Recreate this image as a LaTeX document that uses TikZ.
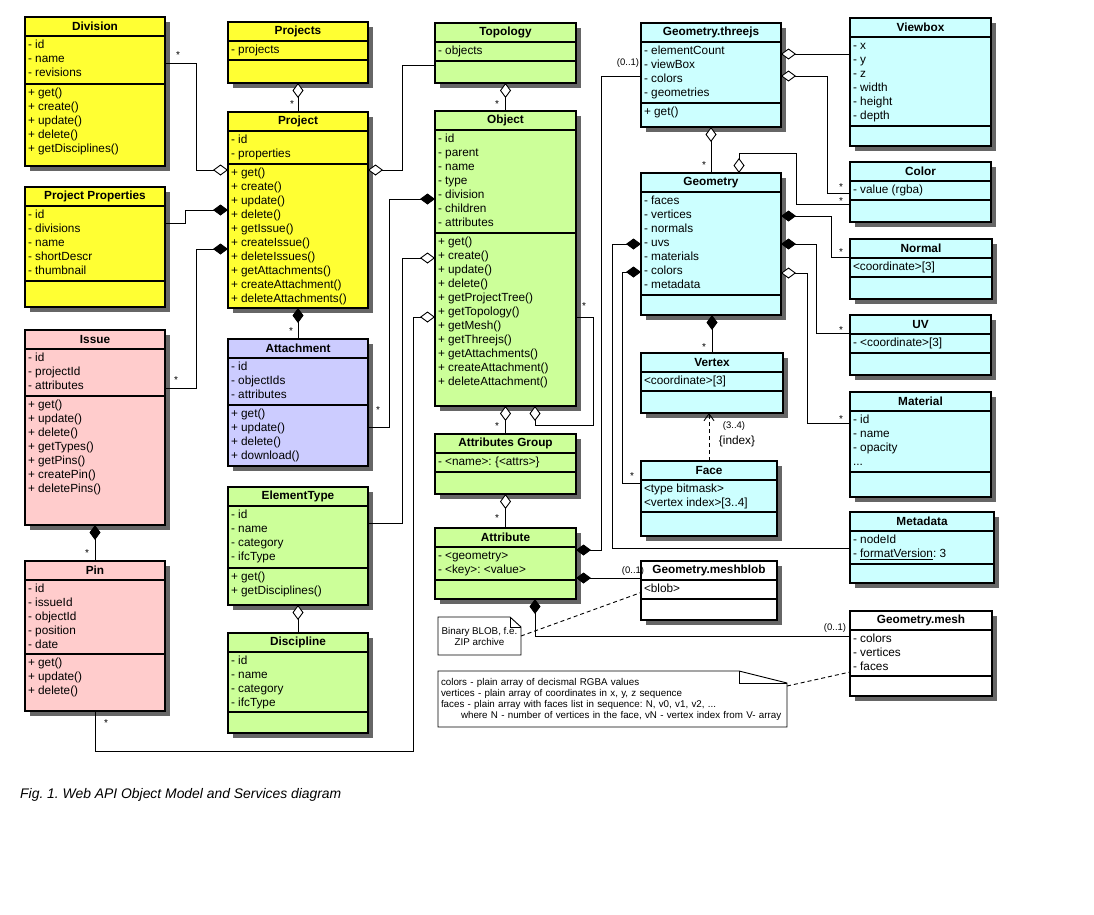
\documentclass[tikz,border=0pt]{standalone}
\usepackage{fontspec}
\setmainfont{Liberation Sans}
\usetikzlibrary{arrows.meta,calc,shadows}
\frenchspacing

\definecolor{clsyellow}{RGB}{255,255,51}
\definecolor{clsgreen}{RGB}{204,255,153}
\definecolor{clscyan}{RGB}{204,255,255}
\definecolor{clspink}{RGB}{255,204,204}
\definecolor{clsblue}{RGB}{204,204,255}
\definecolor{clsshadow}{RGB}{102,102,102}

\tikzset{
  clsbase/.style={draw, line width=2.2pt, inner sep=0pt, outer sep=0pt, anchor=north west,
    font=\fontsize{11.8}{14}\selectfont,
    drop shadow={shadow xshift=4.5pt, shadow yshift=-4.5pt, fill=clsshadow, opacity=1}},
  clstitle/.style={clsbase, minimum height=19pt, font=\fontsize{11.8}{14}\selectfont\bfseries},
  clspart/.style={clsbase},
  conn/.style={line width=0.9pt},
  comp/.style={conn, -{Diamond[length=15pt,width=11pt]}},
  aggr/.style={conn, -{Diamond[open,fill=white,length=15pt,width=11pt]}},
  depend/.style={conn, dash pattern=on 4pt off 3pt, -{Straight Barb[length=7pt,width=10pt]}},
  mult/.style={inner sep=0pt, font=\fontsize{10}{10}\selectfont},
  card/.style={inner sep=0pt, font=\fontsize{9.5}{10}\selectfont},
  notebox/.style={inner sep=0pt, outer sep=0pt, anchor=north west, font=\fontsize{9.8}{11}\selectfont},
  noteline/.style={line width=0.9pt},
  notelink/.style={conn, dash pattern=on 4pt off 3pt},
}

% lines inside a class compartment
\newcommand{\clslines}{\raggedright\leftskip=3pt\rule{0pt}{12.5pt}}
% name, position, width, colour, title, attribute height, attributes, method height, methods
\newcommand{\umlclass}[9]{%
  \node[clstitle, fill=#4, minimum width=#3pt] (#1) at (#2) {#5};
  \node[clspart, fill=#4] (#1-a) at (#1.south west) {\parbox[c][#6pt][t]{#3pt}{\clslines #7}};
  \node[clspart, fill=#4] (#1-m) at (#1-a.south west) {\parbox[c][#8pt][t]{#3pt}{\clslines #9}};
}

\begin{document}
\begin{tikzpicture}[x=1pt, y=-1pt]
\fill[white] (0,0) rectangle (1094,914);
\useasboundingbox (0,0) rectangle (1094,914);

% project classes
\umlclass{div}{25,17}{140}{clsyellow}{Division}{48}{- id\\- name\\- revisions}{82}{+ get()\\+ create()\\+ update()\\+ delete()\\+ getDisciplines()}
\umlclass{prjs}{228,22}{140}{clsyellow}{Projects}{19}{- projects}{23}{}
\umlclass{prj}{228,112}{140}{clsyellow}{Project}{33}{- id\\- properties}{144}{+ get()\\+ create()\\+ update()\\+ delete()\\+ getIssue()\\+ createIssue()\\+ deleteIssues()\\+ getAttachments()\\+ createAttachment()\\+ deleteAttachments()}
\umlclass{pp}{25,187}{140}{clsyellow}{Project Properties}{75}{- id\\- divisions\\- name\\- shortDescr\\- thumbnail}{26}{}
\umlclass{iss}{25,330}{140}{clspink}{Issue}{47}{- id\\- projectId\\- attributes}{129}{+ get()\\+ update()\\+ delete()\\+ getTypes()\\+ getPins()\\+ createPin()\\+ deletePins()}
\umlclass{pin}{25,561}{140}{clspink}{Pin}{74}{- id\\- issueId\\- objectId\\- position\\- date}{57}{+ get()\\+ update()\\+ delete()}
\umlclass{att}{228,339}{140}{clsblue}{Attachment}{47}{- id\\- objectIds\\- attributes}{61}{+ get()\\+ update()\\+ delete()\\+ download()}
\umlclass{et}{228,487}{140}{clsgreen}{ElementType}{62}{- id\\- name\\- category\\- ifcType}{37}{+ get()\\+ getDisciplines()}
\umlclass{dis}{228,633}{140}{clsgreen}{Discipline}{60}{- id\\- name\\- category\\- ifcType}{21}{}

% object classes
\umlclass{top}{435,23}{141}{clsgreen}{Topology}{19}{- objects}{22}{}
\umlclass{obj}{435,111}{141}{clsgreen}{Object}{103}{- id\\- parent\\- name\\- type\\- division\\- children\\- attributes}{173}{+ get()\\+ create()\\+ update()\\+ delete()\\+ getProjectTree()\\+ getTopology()\\+ getMesh()\\+ getThreejs()\\+ getAttachments()\\+ createAttachment()\\+ deleteAttachment()}
\umlclass{ag}{435,434}{141}{clsgreen}{Attributes Group}{19}{- <name>: \{<attrs>\}}{22}{}
\umlclass{attr}{435,528}{141}{clsgreen}{Attribute}{33}{- <geometry>\\- <key>: <value>}{19}{}

% geometry classes
\umlclass{tjs}{641,23}{140}{clscyan}{Geometry.threejs}{61}{- elementCount\\- viewBox\\- colors\\- geometries}{24}{+ get()}
\umlclass{geo}{641,173}{140}{clscyan}{Geometry}{103}{- faces\\- vertices\\- normals\\- uvs\\- materials\\- colors\\- metadata}{20}{}
\umlclass{vtx}{641,353}{142}{clscyan}{Vertex}{19}{<coordinate>[3]}{22}{}
\umlclass{face}{641,461}{136}{clscyan}{Face}{32}{<type bitmask>\\<vertex index>[3..4]}{24}{}
\umlclass{blob}{641,561}{136}{white}{Geometry.meshblob}{19}{<blob>}{21}{}
\umlclass{vbox}{850,18}{141}{clscyan}{Viewbox}{89}{- x\\- y\\- z\\- width\\- height\\- depth}{20}{}
\umlclass{col}{850,162}{141}{clscyan}{Color}{19}{- value (rgba)}{22}{}
\umlclass{nrm}{850,239}{142}{clscyan}{Normal}{19}{<coordinate>[3]}{22}{}
\umlclass{uv}{850,315}{141}{clscyan}{UV}{19}{- <coordinate>[3]}{22}{}
\umlclass{mat}{850,392}{141}{clscyan}{Material}{61}{- id\\- name\\- opacity\\...}{25}{}
\umlclass{meta}{850,512}{144}{clscyan}{Metadata}{33}{- nodeId\\- \underline{formatVersion}: 3}{19}{}
\umlclass{mesh}{850,611}{142}{white}{Geometry.mesh}{46}{- colors\\- vertices\\- faces}{20}{}

% project connectors
\draw[aggr] ($(div.north east)+(0,46)$) -| (196,170) -- ($(prj.north west)+(0,58)$);
\draw[comp] ($(pp.north east)+(0,36)$) -| (185,210) -- ($(prj.north west)+(0,98)$);
\draw[comp] ($(iss.north east)+(0,58)$) -| (196,249) -- ($(prj.north west)+(0,137)$);
\draw[aggr] (prj.north) -- (prjs-m.south);
\draw[aggr] ($(top.north west)+(0,42)$) -| (402,170) -- ($(prj.north east)+(0,58)$);
\draw[comp] (att.north) -- (prj-m.south);
\draw[comp] (pin.north) -- (iss-m.south);
\draw[aggr] (dis.north) -- (et-m.south);

% object connectors
\draw[aggr] (obj.north) -- (top-m.south);
\draw[comp] ($(att.north east)+(0,88)$) -| (389,199) -- ($(obj.north west)+(0,88)$);
\draw[aggr] ($(et.north east)+(0,36)$) -| (402,258) -- ($(obj.north west)+(0,147)$);
\draw[aggr] (pin-m.south) |- (413,751) |- ($(obj.north west)+(0,206)$);
\draw[aggr] (ag.north) -- (obj-m.south);
\draw[aggr] ($(obj.north east)+(0,206)$) -| (593,425) -| ($(obj-m.south west)+(100,0)$);
\draw[aggr] (attr.north) -- (ag-m.south);

% geometry connectors
\draw[comp] ($(tjs.north west)+(0,53)$) -| (601,550) -- ($(attr.north east)+(0,22)$);
\draw[comp] ($(blob.north west)+(0,17)$) -- ($(attr.north east)+(0,50)$);
\draw[comp] ($(mesh.north west)+(0,25)$) -| ($(attr-m.south west)+(100,0)$);
\draw[aggr] ($(vbox.north west)+(0,36)$) -- ($(tjs.north east)+(0,31)$);
\draw[aggr] ($(col.north west)+(0,31)$) -| (827,76) -- ($(tjs.north east)+(0,53)$);
\draw[aggr] ($(col.north west)+(0,42)$) -| (796,153) -| ($(geo.north west)+(98,0)$);
\draw[aggr] (geo.north) -- (tjs-m.south);
\draw[comp] ($(nrm.north west)+(0,18)$) -| (831,216) -- ($(geo.north east)+(0,43)$);
\draw[comp] ($(uv.north west)+(0,18)$) -| (816,244) -- ($(geo.north east)+(0,71)$);
\draw[aggr] ($(mat.north west)+(0,31)$) -| (807,273) -- ($(geo.north east)+(0,100)$);
\draw[comp] (vtx.north) -- (vtx.north |- geo-m.south);
\draw[comp] ($(face.north west)+(0,22)$) -| (622,272) -- ($(geo.north west)+(0,99)$);
\draw[comp] ($(meta.north west)+(0,36)$) -| (612,244) -- ($(geo.north west)+(0,71)$);
\draw[depend] (face.north) -- (face.north |- vtx-m.south);

% multiplicities
\foreach \x/\y [count=\i] in {178/55, 292/104, 176/380, 497/104, 291/331, 378/410, 106/723, 87/553,
    497/426, 584/306, 497/518, 841/187, 841/201, 704/165, 841/252, 841/330, 841/419, 704/347, 632/476}
  \node[mult] (star\i) at (\x,\y) {*};
\node[card] (card1) at (628,63) {(0..1)};
\node[card] (card2) at (633,571) {(0..1)};
\node[card] (card3) at (835,628) {(0..1)};
\node[card] (card4) at (734,426) {(3..4)};
\node[inner sep=0pt, font=\fontsize{11.8}{14}\selectfont] (idx) at (737,441) {\{index\}};

% notes
\node[notebox, minimum width=83pt, minimum height=38pt, align=center] (blobnote) at (438,617) {Binary BLOB, f.e.\\ZIP archive};
\draw[noteline] (blobnote.north west) -- ($(blobnote.north east)+(-11,0)$) -- ($(blobnote.north east)+(0,10)$) -- (blobnote.south east) -- (blobnote.south west) -- cycle;
\draw[noteline] ($(blobnote.north east)+(-11,0)$) |- ($(blobnote.north east)+(0,10)$);
\draw[notelink] (blobnote.east) -- ($(blob-a.west)+(0,3)$);

\node[notebox, text width=343pt, inner xsep=3pt, minimum height=56pt, align=left] (meshnote) at (438,671) {colors - plain array of decismal RGBA values\\vertices - plain array of coordinates in x, y, z sequence\\faces - plain array with faces list in sequence: N, v0, v1, v2, ...\\\mbox{\hspace*{20pt}where N - number of vertices in the face, vN - vertex index from V- array}};
\draw[noteline] (meshnote.north west) -- ($(meshnote.north east)+(-48,0)$) -- ($(meshnote.north east)+(0,12)$) -- (meshnote.south east) -- (meshnote.south west) -- cycle;
\draw[noteline] ($(meshnote.north east)+(-48,0)$) |- ($(meshnote.north east)+(0,12)$);
\draw[notelink] ($(meshnote.north east)+(0,15)$) -- ($(mesh-a.north west)+(0,42)$);

\node[anchor=west, inner sep=0pt, font=\fontsize{13.9}{17}\selectfont\itshape] (caption) at (20,795) {Fig. 1. Web API Object Model and Services diagram};
\end{tikzpicture}
\end{document}
